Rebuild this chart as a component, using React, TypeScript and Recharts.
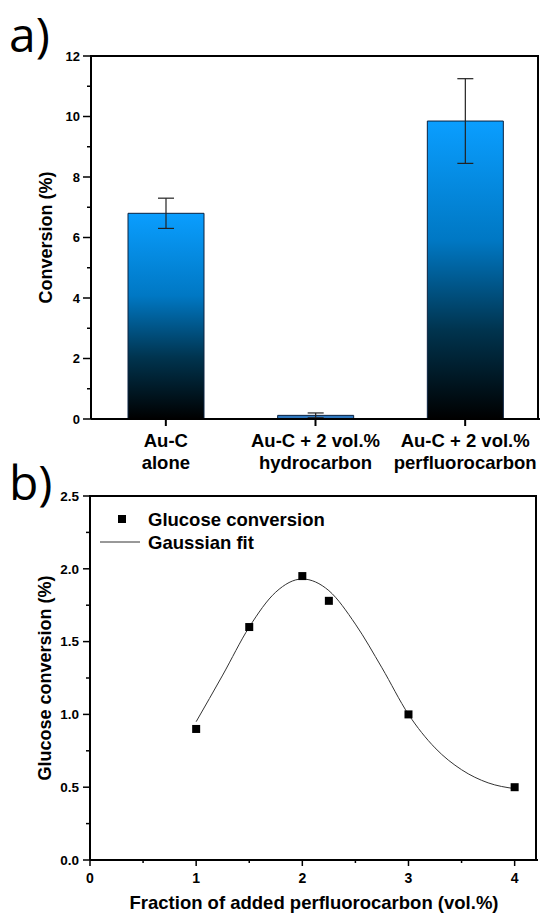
import {
  BarChart, Bar, XAxis, YAxis, ErrorBar, Cell, ComposedChart, Line, Scatter,
} from 'recharts';

// panel a
const categories = ['Au-C\nalone', 'Au-C + 2 vol.%\nhydrocarbon', 'Au-C + 2 vol.%\nperfluorocarbon'];
const conversion = [6.8, 0.12, 9.85];
const conversionErr = [0.5, 0.08, 1.4];
const conversionTicks = [0, 1, 2, 3, 4, 5, 6, 7, 8, 9, 10, 11, 12];

// panel b
const fraction = [1, 1.5, 2, 2.25, 3, 4];
const glucose = [0.9, 1.6, 1.95, 1.78, 1.0, 0.5];
const fitX = [1, 1.25, 1.5, 1.75, 2, 2.25, 2.5, 2.75, 3, 3.25, 3.5, 3.75, 4];
const fitY = [0.95, 1.27, 1.6, 1.84, 1.93, 1.85, 1.62, 1.32, 1.0, 0.77, 0.62, 0.53, 0.49];
const glucoseTicks = [0, 0.25, 0.5, 0.75, 1, 1.25, 1.5, 1.75, 2, 2.25, 2.5];
const fractionTicks = [0, 0.5, 1, 1.5, 2, 2.5, 3, 3.5, 4];
const fractionMax = 4.22;

const FONT = '"Liberation Sans", Arial, sans-serif';
const AXIS = { stroke: '#000', strokeWidth: 2 };
const W = 541;

// layout of the two panels (plot boxes)
const A = { top: 0, height: 479, mTop: 56, mRight: 1, yw: 91, xh: 60 };
const B = { top: 440, height: 477, mTop: 56, mRight: 3, yw: 90, xh: 57 };

const barData = categories.map((c, i) => ({ name: c, value: conversion[i], err: conversionErr[i] }));
const pointData = fraction.map((x, i) => ({ x, y: glucose[i] }));
const fitData = fitX.map((x, i) => ({ x, y: fitY[i] }));

const ConvTick = (props: any) => {
  const { x, y, payload } = props;
  const major = payload.value % 2 === 0;
  return (
    <g>
      <line x1={x - (major ? 8 : 4)} x2={x} y1={y} y2={y} stroke="#000" strokeWidth={1.5} />
      {major && (
        <text x={x - 11} y={y} dy="0.36em" textAnchor="end" fontFamily={FONT} fontWeight="bold" fontSize={13}>
          {payload.value}
        </text>
      )}
    </g>
  );
};

const CatTick = (props: any) => {
  const { x, y, payload } = props;
  const lines = String(payload.value).split('\n');
  return (
    <g>
      <line x1={x} x2={x} y1={y} y2={y + 7} stroke="#000" strokeWidth={2} />
      {lines.map((l, i) => (
        <text key={i} x={x} y={y + 28 + i * 22} textAnchor="middle" fontFamily={FONT} fontWeight="bold" fontSize={18.5}>
          {l}
        </text>
      ))}
    </g>
  );
};

const GluTick = (props: any) => {
  const { x, y, payload } = props;
  const major = Math.round(payload.value * 100) % 50 === 0;
  return (
    <g>
      <line x1={x - (major ? 7 : 4)} x2={x} y1={y} y2={y} stroke="#000" strokeWidth={1.5} />
      {major && (
        <text x={x - 11} y={y} dy="0.36em" textAnchor="end" fontFamily={FONT} fontWeight="bold" fontSize={13.5}>
          {payload.value.toFixed(1)}
        </text>
      )}
    </g>
  );
};

const FracTick = (props: any) => {
  const { x, y, payload } = props;
  const major = Number.isInteger(payload.value);
  return (
    <g>
      <line x1={x} x2={x} y1={y} y2={y + (major ? 6 : 3)} stroke="#000" strokeWidth={1.5} />
      {major && (
        <text x={x} y={y + 23} textAnchor="middle" fontFamily={FONT} fontWeight="bold" fontSize={14}>
          {payload.value}
        </text>
      )}
    </g>
  );
};

const Square = (props: any) => {
  const { cx, cy } = props;
  return <rect x={cx - 4} y={cy - 4} width={8} height={8} fill="#000" />;
};

// top + right border of a plot box, as a plain bordered div
const boxStyle = (p: typeof A): any => ({
  position: 'absolute',
  left: p.yw - 1,
  top: p.top + p.mTop - 1,
  width: W - p.mRight - p.yw,
  height: p.height - p.mTop - p.xh + 1,
  borderTop: '2px solid #000',
  borderRight: '2px solid #000',
  boxSizing: 'border-box',
  pointerEvents: 'none',
});

const App = () => {
  return (
    <div style={{ position: 'absolute', left: 0, top: 0, width: W, height: 917, background: '#fff' }}>
      <div style={{ position: 'absolute', left: 0, top: A.top }}>
        <BarChart width={W} height={A.height} data={barData} margin={{ top: A.mTop, right: A.mRight, left: 0, bottom: 0 }}>
          <defs>
            <linearGradient id="barFill" x1="0" y1="0" x2="0" y2="1">
              <stop offset="0%" stopColor="#0a9eff" />
              <stop offset="40%" stopColor="#0078c4" />
              <stop offset="70%" stopColor="#00344f" />
              <stop offset="100%" stopColor="#000000" />
            </linearGradient>
          </defs>
          <XAxis dataKey="name" interval={0} height={A.xh} stroke="#000" axisLine={AXIS} tickLine={false}
            tickSize={0} tickMargin={0} tick={<CatTick />} />
          <YAxis type="number" domain={[0, 12]} ticks={conversionTicks} width={A.yw} stroke="#000" axisLine={AXIS}
            tickLine={false} tickSize={0} tickMargin={0} tick={<ConvTick />} interval={0}
            label={{ value: 'Conversion (%)', angle: -90, position: 'center', fontFamily: FONT, fontWeight: 'bold', fontSize: 18, fill: '#000' }} />
          <Bar dataKey="value" barSize={76} stroke="#0b2240" strokeWidth={1} isAnimationActive={false}>
            {barData.map((d, i) => (
              <Cell key={i} fill={d.value < 1 ? '#2f78bf' : 'url(#barFill)'} />
            ))}
            <ErrorBar dataKey="err" width={8} stroke="#222" strokeWidth={1.2} direction="y" />
          </Bar>
        </BarChart>
      </div>

      <div style={{ position: 'absolute', left: 0, top: B.top }}>
        <ComposedChart width={W} height={B.height} margin={{ top: B.mTop, right: B.mRight, left: 0, bottom: 0 }}>
          <XAxis dataKey="x" type="number" domain={[0, fractionMax]} allowDataOverflow ticks={fractionTicks} interval={0}
            height={B.xh} stroke="#000" axisLine={AXIS} tickLine={false} tickSize={0} tickMargin={0} tick={<FracTick />}
            label={{ value: 'Fraction of added perfluorocarbon (vol.%)', position: 'insideBottom', offset: 8, fontFamily: FONT, fontWeight: 'bold', fontSize: 18.5, fill: '#000' }} />
          <YAxis dataKey="y" type="number" domain={[0, 2.5]} ticks={glucoseTicks} interval={0} width={B.yw}
            stroke="#000" axisLine={AXIS} tickLine={false} tickSize={0} tickMargin={0} tick={<GluTick />}
            label={{ value: 'Glucose conversion (%)', angle: -90, position: 'center', fontFamily: FONT, fontWeight: 'bold', fontSize: 18, fill: '#000' }} />
          <Line data={fitData} dataKey="y" type="monotone" stroke="#333" strokeWidth={1} dot={false} isAnimationActive={false} />
          <Scatter data={pointData} dataKey="y" fill="#000" shape={<Square />} isAnimationActive={false} />
        </ComposedChart>
      </div>

      <div style={boxStyle(A)} />
      <div style={boxStyle(B)} />

      <svg width={W} height={917} style={{ position: 'absolute', left: 0, top: 0, pointerEvents: 'none' }}>
        <text x={9} y={52} fontFamily='"Open Sans", sans-serif' fontSize={48}>a)</text>
        <text x={9} y={500} fontFamily='"Open Sans", sans-serif' fontSize={48}>b)</text>
        <rect x={118} y={515} width={8} height={8} fill="#000" />
        <text x={148} y={526} fontFamily={FONT} fontWeight="bold" fontSize={18.5}>Glucose conversion</text>
        <line x1={100} x2={140} y1={542} y2={542} stroke="#333" strokeWidth={1} />
        <text x={148} y={549} fontFamily={FONT} fontWeight="bold" fontSize={18.5}>Gaussian fit</text>
      </svg>
    </div>
  );
};

export default App;
